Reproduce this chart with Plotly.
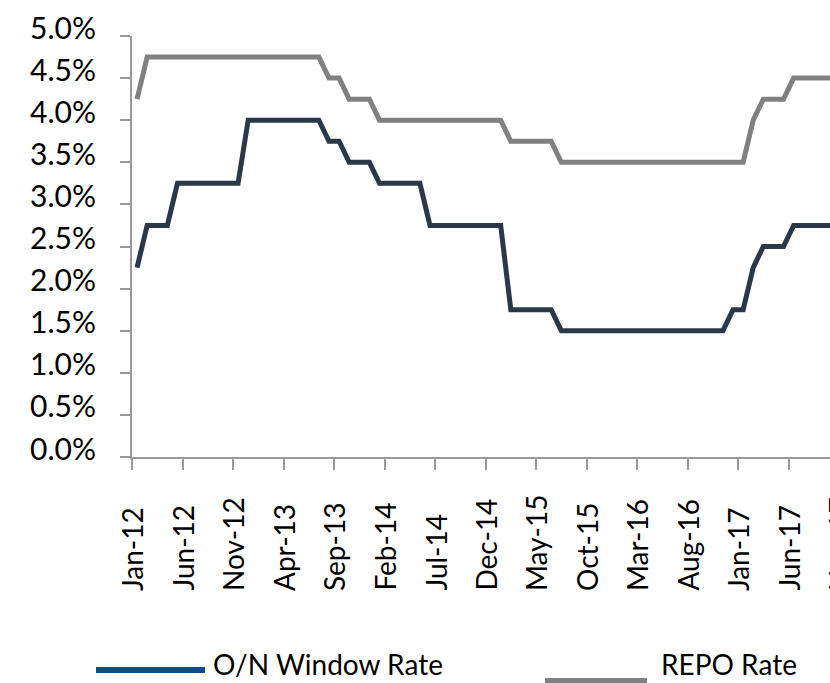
import plotly.graph_objects as go

# Month labels (monthly observations, Jan-12 .. Oct-17)
months = [
    "Jan-12", "Feb-12", "Mar-12", "Apr-12", "May-12", "Jun-12", "Jul-12", "Aug-12", "Sep-12", "Oct-12", "Nov-12", "Dec-12",
    "Jan-13", "Feb-13", "Mar-13", "Apr-13", "May-13", "Jun-13", "Jul-13", "Aug-13", "Sep-13", "Oct-13", "Nov-13", "Dec-13",
    "Jan-14", "Feb-14", "Mar-14", "Apr-14", "May-14", "Jun-14", "Jul-14", "Aug-14", "Sep-14", "Oct-14", "Nov-14", "Dec-14",
    "Jan-15", "Feb-15", "Mar-15", "Apr-15", "May-15", "Jun-15", "Jul-15", "Aug-15", "Sep-15", "Oct-15", "Nov-15", "Dec-15",
    "Jan-16", "Feb-16", "Mar-16", "Apr-16", "May-16", "Jun-16", "Jul-16", "Aug-16", "Sep-16", "Oct-16", "Nov-16", "Dec-16",
    "Jan-17", "Feb-17", "Mar-17", "Apr-17", "May-17", "Jun-17", "Jul-17", "Aug-17", "Sep-17", "Oct-17",
]

# Policy rates, % per month
repo_rate = [
    4.25,
    4.75, 4.75, 4.75, 4.75, 4.75, 4.75, 4.75, 4.75, 4.75, 4.75, 4.75, 4.75, 4.75, 4.75, 4.75, 4.75, 4.75, 4.75,
    4.50, 4.50,
    4.25, 4.25, 4.25,
    4.00, 4.00, 4.00, 4.00, 4.00, 4.00, 4.00, 4.00, 4.00, 4.00, 4.00, 4.00, 4.00,
    3.75, 3.75, 3.75, 3.75, 3.75,
    3.50, 3.50, 3.50, 3.50, 3.50, 3.50, 3.50, 3.50, 3.50, 3.50, 3.50, 3.50, 3.50, 3.50, 3.50, 3.50, 3.50, 3.50, 3.50,
    4.00,
    4.25, 4.25, 4.25,
    4.50, 4.50, 4.50, 4.50, 4.50,
]

on_window_rate = [
    2.25,
    2.75, 2.75, 2.75,
    3.25, 3.25, 3.25, 3.25, 3.25, 3.25, 3.25,
    4.00, 4.00, 4.00, 4.00, 4.00, 4.00, 4.00, 4.00,
    3.75, 3.75,
    3.50, 3.50, 3.50,
    3.25, 3.25, 3.25, 3.25, 3.25,
    2.75, 2.75, 2.75, 2.75, 2.75, 2.75, 2.75, 2.75,
    1.75, 1.75, 1.75, 1.75, 1.75,
    1.50, 1.50, 1.50, 1.50, 1.50, 1.50, 1.50, 1.50, 1.50, 1.50, 1.50, 1.50, 1.50, 1.50, 1.50, 1.50, 1.50,
    1.75, 1.75,
    2.25,
    2.50, 2.50, 2.50,
    2.75, 2.75, 2.75, 2.75, 2.75,
]

# Axis labels
x_tick_labels = ["Jan-12", "Jun-12", "Nov-12", "Apr-13", "Sep-13", "Feb-14", "Jul-14", "Dec-14",
                 "May-15", "Oct-15", "Mar-16", "Aug-16", "Jan-17", "Jun-17", "Nov-17"]
y_tick_values = [0.0, 0.5, 1.0, 1.5, 2.0, 2.5, 3.0, 3.5, 4.0, 4.5, 5.0]
y_tick_labels = ["0.0%", "0.5%", "1.0%", "1.5%", "2.0%", "2.5%", "3.0%", "3.5%", "4.0%", "4.5%", "5.0%"]
legend_labels = ["O/N Window Rate", "REPO Rate"]

# Each observation sits mid-month; ticks mark the start of a month.
x_pos = [i + 0.5 for i in range(len(months))]
tick_pos = [months.index(lbl) if lbl in months else len(months) for lbl in x_tick_labels]
X_MAX = 69.1

W, H = 830, 683
M_L, M_R, M_T, M_B = 132, 0, 36, 226
PW = W - M_L - M_R
PH = H - M_T - M_B

FONT = "Lato, 'Open Sans', Arial, sans-serif"
AXIS_GREY = "#999999"

fig = go.Figure()
fig.add_trace(go.Scatter(x=x_pos, y=repo_rate, mode="lines", name=legend_labels[1],
                         line=dict(color="#808080", width=5), showlegend=False))
fig.add_trace(go.Scatter(x=x_pos, y=on_window_rate, mode="lines", name=legend_labels[0],
                         line=dict(color="#2B3847", width=5), showlegend=False))

fig.update_xaxes(
    range=[0, X_MAX], showgrid=False, zeroline=False,
    showline=True, linecolor=AXIS_GREY, linewidth=2,
    ticks="outside", ticklen=11, tickwidth=2, tickcolor=AXIS_GREY,
    tickvals=[p for p in tick_pos if p <= X_MAX], showticklabels=False,
)
fig.update_yaxes(
    range=[0, 5], showgrid=False, zeroline=False,
    showline=True, linecolor=AXIS_GREY, linewidth=2,
    ticks="outside", ticklen=10, tickwidth=2, tickcolor=AXIS_GREY,
    tickvals=y_tick_values, ticktext=y_tick_labels,
    tickfont=dict(family=FONT, size=30, color="#000000"),
    ticklabelstandoff=18, ticklabelshift=-8,
)


def px_to_paper_x(px):
    return (px - M_L) / PW


def px_to_paper_y(py):
    return (H - M_B - py) / PH


# Rotated month labels, bottom-aligned below the axis
annotations = []
for lbl, pos in zip(x_tick_labels, tick_pos):
    annotations.append(dict(
        x=pos / X_MAX, xref="paper", y=0, yref="paper",
        text=lbl, showarrow=False, textangle=-90,
        xanchor="center", yanchor="bottom", yshift=-(593 - (H - M_B)),
        font=dict(family=FONT, size=28, color="#000000"),
    ))

# Legend drawn by hand: swatch + label
legend_items = [
    (legend_labels[0], "#0D4A8C", 96, 205, 670, 211),
    (legend_labels[1], "#808080", 545, 647, 681, 659),
]
shapes = []
for text, color, x0, x1, ys, xt in legend_items:
    shapes.append(dict(type="line", xref="paper", yref="paper",
                       x0=px_to_paper_x(x0), x1=px_to_paper_x(x1),
                       y0=px_to_paper_y(ys), y1=px_to_paper_y(ys),
                       line=dict(color=color, width=6)))
    annotations.append(dict(
        x=px_to_paper_x(xt), xref="paper", y=px_to_paper_y(664), yref="paper",
        text=text, showarrow=False, xanchor="left", yanchor="middle",
        font=dict(family=FONT, size=28, color="#000000"),
    ))

fig.update_layout(
    width=W, height=H,
    margin=dict(l=M_L, r=M_R, t=M_T, b=M_B, pad=0),
    plot_bgcolor="white", paper_bgcolor="white",
    annotations=annotations, shapes=shapes,
    showlegend=False,
)

fig.write_html("out.html")
